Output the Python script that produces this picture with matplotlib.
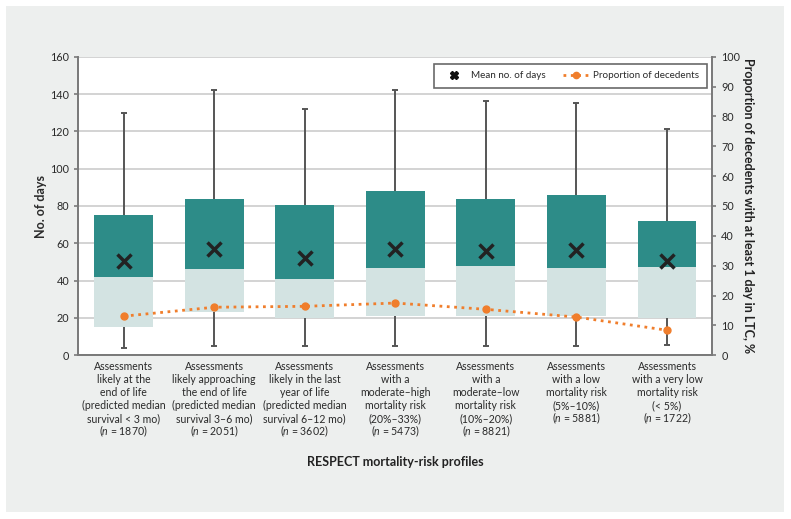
import matplotlib.pyplot as plt
import matplotlib.patches as mpatches
from matplotlib.lines import Line2D
import numpy as np

plt.rcParams['font.family'] = ['Lato', 'DejaVu Sans']
plt.rcParams['mathtext.fontset'] = 'custom'
plt.rcParams['mathtext.rm'] = 'Lato'
plt.rcParams['mathtext.it'] = 'Lato:italic'

# Data
labels = [
    ['Assessments', 'likely at the', 'end of life', '(predicted median', 'survival < 3 mo)', '($n$ = 1870)'],
    ['Assessments', 'likely approaching', 'the end of life', '(predicted median', 'survival 3–6 mo)', '($n$ = 2051)'],
    ['Assessments', 'likely in the last', 'year of life', '(predicted median', 'survival 6–12 mo)', '($n$ = 3602)'],
    ['Assessments', 'with a', 'moderate–high', 'mortality risk', '(20%–33%)', '($n$ = 5473)'],
    ['Assessments', 'with a', 'moderate–low', 'mortality risk', '(10%–20%)', '($n$ = 8821)'],
    ['Assessments', 'with a low', 'mortality risk', '(5%–10%)', '($n$ = 5881)'],
    ['Assessments', 'with a very low', 'mortality risk', '(< 5%)', '($n$ = 1722)'],
]
whisker_low = [4, 5, 5, 5, 5, 5, 5.5]
q1 = [15, 23, 20, 21, 21, 21, 20]
median = [42, 46, 41, 47, 48, 47, 47.5]
q3 = [75, 84, 80.5, 88, 84, 86, 72]
whisker_high = [130, 142, 132, 142, 136, 135, 121]
mean_days = [50.5, 56.8, 52.1, 56.8, 55.7, 56.4, 50.7]
prop_decedents = [13.1, 16.1, 16.4, 17.5, 15.4, 12.8, 8.4]

dark_teal = '#2D8C88'
light_teal = '#D3E3E2'
orange = '#F07E2C'
text_col = '#2A2A2A'
spine_col = '#7A7A7A'

fig = plt.figure(figsize=(7.91, 5.19), dpi=100)
fig.patch.set_facecolor('white')
fig.patches.append(mpatches.Rectangle((6 / 791, 1 - 512 / 519), 778 / 791, 506 / 519,
                                      transform=fig.transFigure, facecolor='#EDEFEE',
                                      edgecolor='none', zorder=-10))

ax = fig.add_axes([78.3 / 791, 1 - 355.3 / 519, 634 / 791, 298.6 / 519])
ax.set_facecolor('white')
x = np.arange(len(labels))
width = 0.65

med = np.array(median)
ax.errorbar(x, med, yerr=[med - np.array(whisker_low), np.array(whisker_high) - med],
            fmt='none', ecolor='#555555', elinewidth=1.4, capsize=2, capthick=1.4, zorder=2)
ax.bar(x, med - np.array(q1), width, bottom=q1, color=light_teal, zorder=3)
ax.bar(x, np.array(q3) - med, width, bottom=med, color=dark_teal, zorder=3)
ax.plot(x, mean_days, linestyle='none', marker='x', markersize=10, markeredgewidth=2.5,
        color='#222222', zorder=5)

ax.set_xlim(-0.5, 6.5)
ax.set_ylim(0, 160)
ax.set_yticks(np.arange(0, 161, 20))
ax.grid(axis='y', color='#D0D0D0', linewidth=1.3, zorder=0)
ax.set_axisbelow(True)
ax.set_xticks(x)
ax.set_xticklabels([])
ax.tick_params(axis='x', length=0)
ax.tick_params(axis='y', labelsize=7.8, labelcolor=text_col, color=spine_col, length=3, width=1.2)

# multi-line category labels, one line at a time so the italic n line keeps the spacing
for j, lines in enumerate(labels):
    for i, line in enumerate(lines):
        ax.annotate(line, xy=(j, 0), xycoords=('data', 'axes fraction'),
                    xytext=(0, -15 - 13 * i), textcoords='offset pixels',
                    ha='center', va='baseline', fontsize=7.6, color=text_col,
                    annotation_clip=False)

ax.set_ylabel('No. of days', fontsize=9, fontweight='bold', color=text_col, labelpad=2)
ax.set_xlabel('RESPECT mortality-risk profiles', fontsize=9, fontweight='bold', color='#222222')
ax.xaxis.set_label_coords(0.5, -(456.5 - 355.3) / 298.6)
for s in ['left', 'bottom', 'right']:
    ax.spines[s].set_color(spine_col)
    ax.spines[s].set_linewidth(1.3)
ax.spines['top'].set_visible(False)

ax2 = ax.twinx()
ax2.plot(x, prop_decedents, linestyle=':', linewidth=2, marker='o', markersize=5,
         color=orange, zorder=6)
ax2.set_ylim(0, 100)
ax2.set_yticks(np.arange(0, 101, 10))
ax2.tick_params(axis='y', labelsize=7.8, labelcolor=text_col, color=spine_col, length=3, width=1.2)
ax2.set_ylabel('Proportion of decedents with at least 1 day in LTC, %', fontsize=9,
               fontweight='bold', color='#222222', rotation=-90, labelpad=10)
for s in ['left', 'bottom', 'right']:
    ax2.spines[s].set_color(spine_col)
    ax2.spines[s].set_linewidth(1.3)
ax2.spines['top'].set_visible(False)

handles = [
    Line2D([], [], linestyle='none', marker='X', markersize=5.5, color='#111111'),
    Line2D([], [], linestyle=':', linewidth=2, marker='o', markersize=4.5, color=orange),
]
leg = ax2.legend(handles, ['Mean no. of days', 'Proportion of decedents'], ncol=2,
                 loc='upper right', bbox_to_anchor=(0.991, 0.976), borderaxespad=0,
                 fontsize=7.1, frameon=True, fancybox=False, edgecolor='#444444',
                 columnspacing=1.8, handlelength=2.6, handletextpad=0.4, borderpad=0.75)
leg.get_frame().set_linewidth(1.2)
for t in leg.get_texts():
    t.set_color(text_col)

fig.savefig('out.png', dpi=100)
